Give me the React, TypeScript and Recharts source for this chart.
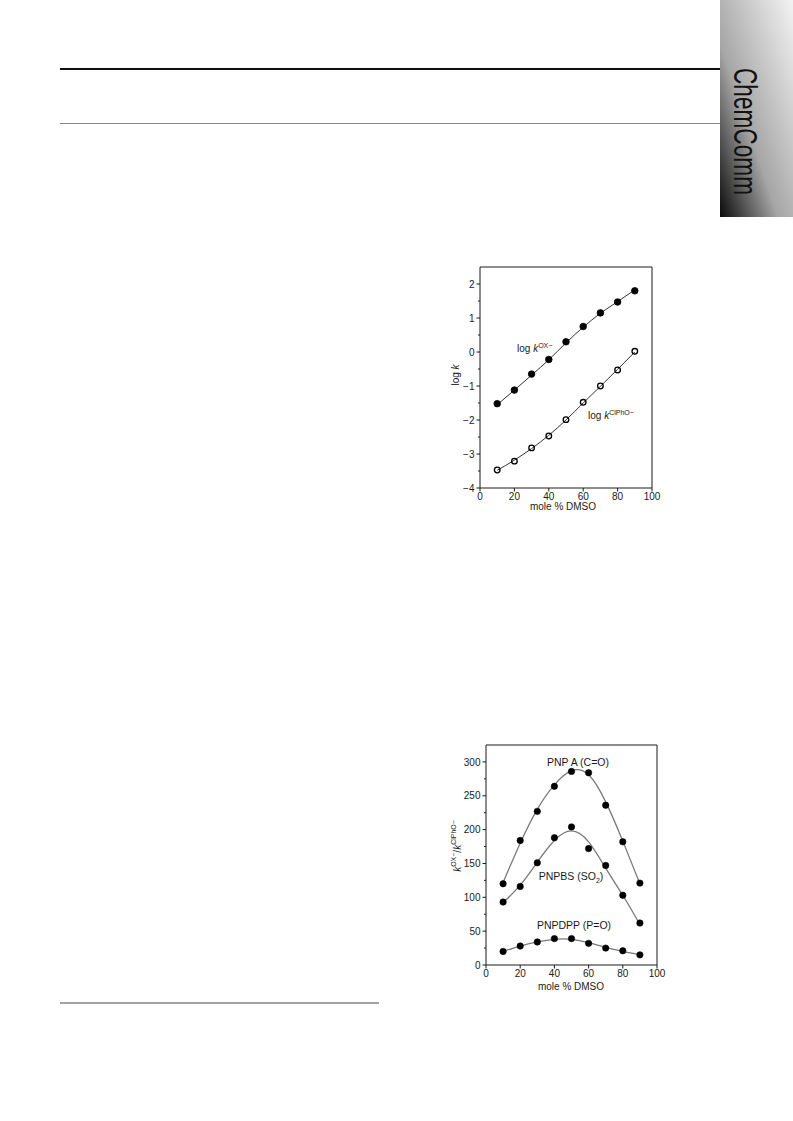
import React from 'react';
import { ComposedChart, Line, XAxis, YAxis, ReferenceArea } from 'recharts';

const FONT = '"Liberation Sans", Arial, Helvetica, sans-serif';
const INK = '#1a1a1a';

// ---- shared x categories (mole % DMSO) ----
const molePct = [10, 20, 30, 40, 50, 60, 70, 80, 90];

// ---- chart 1: log k ----
const logKOX = [-1.52, -1.12, -0.65, -0.22, 0.3, 0.75, 1.15, 1.47, 1.8];
const logKClPhO = [-3.47, -3.21, -2.82, -2.47, -1.99, -1.48, -1.0, -0.53, 0.02];
const fitLogKOX = [-1.55, -1.12, -0.68, -0.23, 0.27, 0.73, 1.14, 1.48, 1.83];
const fitLogKClPhO = [-3.48, -3.18, -2.84, -2.45, -2.0, -1.5, -1.01, -0.51, 0.0];
const c1XTicks = [0, 20, 40, 60, 80, 100];
const c1YTicks = [-4, -3.5, -3, -2.5, -2, -1.5, -1, -0.5, 0, 0.5, 1, 1.5, 2];

// ---- chart 2: kOX / kClPhO ratio ----
const ratioPNPA = [120, 184, 227, 264, 286, 284, 236, 182, 121];
const ratioPNPBS = [93, 116, 151, 188, 204, 172, 147, 103, 62];
const ratioPNPDPP = [20, 28, 34, 39, 39, 32, 25, 21, 15];
const fitPNPA = [122, 180, 230, 266, 287, 281, 241, 183, 120];
const fitPNPBS = [92, 118, 152, 184, 198, 182, 143, 103, 60];
const fitPNPDPP = [20, 28, 34, 38, 38, 33, 26, 20, 15];
const c2XTicks = [0, 20, 40, 60, 80, 100];
const c2YTicks = [0, 25, 50, 75, 100, 125, 150, 175, 200, 225, 250, 275, 300];

const chart1Data = molePct.map((x, i) => ({
  x,
  ox: logKOX[i],
  cl: logKClPhO[i],
  fitOx: fitLogKOX[i],
  fitCl: fitLogKClPhO[i],
}));

const chart2Data = molePct.map((x, i) => ({
  x,
  a: ratioPNPA[i],
  bs: ratioPNPBS[i],
  dpp: ratioPNPDPP[i],
  fitA: fitPNPA[i],
  fitBS: fitPNPBS[i],
  fitDPP: fitPNPDPP[i],
}));

const fmt = (v: number) => (v < 0 ? '\u2212' + Math.abs(v) : String(v));

const makeXTick = (majorStep: number) => (props: any) => {
  const { x, y, payload } = props;
  const v = payload.value as number;
  const major = Math.abs(v % majorStep) < 1e-9;
  return (
    <g>
      <line x1={x} x2={x} y1={y} y2={y + (major ? 3.5 : 2)} stroke={INK} strokeWidth={1} />
      {major && (
        <text x={x} y={y + 11.5} textAnchor="middle" fontSize={10} fill={INK} fontFamily={FONT}>
          {fmt(v)}
        </text>
      )}
    </g>
  );
};

const makeYTick = (majorStep: number) => (props: any) => {
  const { x, y, payload } = props;
  const v = payload.value as number;
  const major = Math.abs(v % majorStep) < 1e-9;
  return (
    <g>
      <line x1={x} x2={x - (major ? 3.5 : 2)} y1={y} y2={y} stroke={INK} strokeWidth={1} />
      {major && (
        <text x={x - 5.5} y={y + 3.6} textAnchor="end" fontSize={10} fill={INK} fontFamily={FONT}>
          {fmt(v)}
        </text>
      )}
    </g>
  );
};

function Chart1() {
  return (
    <ComposedChart
      width={240}
      height={260}
      data={chart1Data}
      margin={{ top: 12, right: 18, bottom: 7, left: 20 }}
    >
      <XAxis
        type="number"
        dataKey="x"
        domain={[0, 100]}
        ticks={c1XTicks}
        interval={0}
        height={20}
        axisLine={false}
        tickLine={false}
        tickSize={0}
        tickMargin={0}
        tick={makeXTick(20)}
        allowDataOverflow
      />
      <YAxis
        type="number"
        domain={[-4, 2.5]}
        ticks={c1YTicks}
        interval={0}
        width={30}
        axisLine={false}
        tickLine={false}
        tickSize={0}
        tickMargin={0}
        tick={makeYTick(1)}
        allowDataOverflow
      />
      <ReferenceArea x1={0} x2={100} y1={-4} y2={2.5} fill="none" stroke={INK} strokeWidth={1} ifOverflow="visible" />
      <Line dataKey="ox" stroke="none" isAnimationActive={false} activeDot={false}
        dot={{ r: 3.3, fill: '#000', stroke: '#000', strokeWidth: 0.8 }} />
      <Line dataKey="cl" stroke="none" isAnimationActive={false} activeDot={false}
        dot={{ r: 2.8, fill: 'none', stroke: '#000', strokeWidth: 1.3 }} />
      <Line dataKey="fitOx" type="monotone" stroke="#333" strokeWidth={1} dot={false} activeDot={false} isAnimationActive={false} />
      <Line dataKey="fitCl" type="monotone" stroke="#333" strokeWidth={1} dot={false} activeDot={false} isAnimationActive={false} />
    </ComposedChart>
  );
}

function Chart2() {
  return (
    <ComposedChart
      width={240}
      height={260}
      data={chart2Data}
      margin={{ top: 12, right: 20, bottom: 8, left: 19 }}
    >
      <XAxis
        type="number"
        dataKey="x"
        domain={[0, 100]}
        ticks={c2XTicks}
        interval={0}
        height={20}
        axisLine={false}
        tickLine={false}
        tickSize={0}
        tickMargin={0}
        tick={makeXTick(20)}
        allowDataOverflow
      />
      <YAxis
        type="number"
        domain={[0, 325]}
        ticks={c2YTicks}
        interval={0}
        width={30}
        axisLine={false}
        tickLine={false}
        tickSize={0}
        tickMargin={0}
        tick={makeYTick(50)}
        allowDataOverflow
      />
      <ReferenceArea x1={0} x2={100} y1={0} y2={325} fill="none" stroke={INK} strokeWidth={1} ifOverflow="visible" />
      <Line dataKey="fitA" type="natural" stroke="#7a7a7a" strokeWidth={1.3} dot={false} activeDot={false} isAnimationActive={false} />
      <Line dataKey="fitBS" type="natural" stroke="#7a7a7a" strokeWidth={1.3} dot={false} activeDot={false} isAnimationActive={false} />
      <Line dataKey="fitDPP" type="natural" stroke="#7a7a7a" strokeWidth={1.3} dot={false} activeDot={false} isAnimationActive={false} />
      <Line dataKey="a" stroke="none" isAnimationActive={false} activeDot={false}
        dot={{ r: 3.2, fill: '#000', stroke: '#000', strokeWidth: 0.6 }} />
      <Line dataKey="bs" stroke="none" isAnimationActive={false} activeDot={false}
        dot={{ r: 3.2, fill: '#000', stroke: '#000', strokeWidth: 0.6 }} />
      <Line dataKey="dpp" stroke="none" isAnimationActive={false} activeDot={false}
        dot={{ r: 3.2, fill: '#000', stroke: '#000', strokeWidth: 0.6 }} />
    </ComposedChart>
  );
}

function PageOverlay() {
  const t = { fontFamily: FONT, fill: INK, fontSize: 10 } as const;
  return (
    <svg
      width={793}
      height={1121}
      style={{ position: 'absolute', left: 0, top: 0, pointerEvents: 'none' }}
    >
      <defs>
        <linearGradient id="tabGrad" x1="0" y1="1" x2="1" y2="0">
          <stop offset="0" stopColor="#0a0a0a" />
          <stop offset="0.4" stopColor="#a6a6a6" />
          <stop offset="1" stopColor="#f3f3f3" />
        </linearGradient>
      </defs>
      {/* header rules */}
      <line x1={60} x2={720} y1={69} y2={69} stroke="#111" strokeWidth={2} />
      <line x1={60} x2={720} y1={123.5} y2={123.5} stroke="#888" strokeWidth={1} />
      {/* side tab */}
      <rect x={720} y={0} width={73} height={217} fill="url(#tabGrad)" />
      <text
        transform="translate(733.5, 68) rotate(90)"
        x={0}
        y={0}
        fontFamily='"Liberation Sans Narrow", "Liberation Sans", Arial, sans-serif'
        fontSize={33}
        fill="#111"
        textLength={127}
        lengthAdjust="spacingAndGlyphs"
      >
        ChemComm
      </text>
      {/* footnote rule */}
      <line x1={60} x2={379} y1={1003} y2={1003} stroke="#444" strokeWidth={1.2} />

      {/* chart 1 texts */}
      <text {...t} x={517} y={352}>
        log <tspan fontStyle="italic">k</tspan>
        <tspan fontSize={7} dy={-4.5}>OX{'\u2212'}</tspan>
      </text>
      <text {...t} x={588} y={419}>
        log <tspan fontStyle="italic">k</tspan>
        <tspan fontSize={7} dy={-4.5}>ClPhO{'\u2212'}</tspan>
      </text>
      <text {...t} transform="translate(458.5, 375) rotate(-90)" textAnchor="middle">
        log <tspan fontStyle="italic">k</tspan>
      </text>
      <text {...t} x={563} y={510} textAnchor="middle">mole % DMSO</text>

      {/* chart 2 texts */}
      <text {...t} x={578} y={765.5} textAnchor="middle" fontSize={10.5}>PNP A (C=O)</text>
      <text {...t} x={571} y={880} textAnchor="middle" fontSize={10.5}>
        PNPBS (SO<tspan fontSize={7} dy={2.5}>2</tspan><tspan dy={-2.5}>)</tspan>
      </text>
      <text {...t} x={574} y={928.5} textAnchor="middle" fontSize={10.5}>PNPDPP (P=O)</text>
      <text {...t} transform="translate(460.5, 846) rotate(-90)" textAnchor="middle">
        <tspan fontStyle="italic">k</tspan>
        <tspan fontSize={7} dy={-4.5}>OX{'\u2212'}</tspan>
        <tspan dy={4.5}>/</tspan>
        <tspan fontStyle="italic">k</tspan>
        <tspan fontSize={7} dy={-4.5}>ClPhO{'\u2212'}</tspan>
      </text>
      <text {...t} x={571} y={990} textAnchor="middle">mole % DMSO</text>
    </svg>
  );
}

export default function App() {
  return (
    <div style={{ position: 'absolute', left: 0, top: 0, width: 793, height: 1121, background: '#fff' }}>
      <div style={{ position: 'absolute', left: 430, top: 255 }}>
        <Chart1 />
      </div>
      <div style={{ position: 'absolute', left: 437, top: 733 }}>
        <Chart2 />
      </div>
      <PageOverlay />
    </div>
  );
}
